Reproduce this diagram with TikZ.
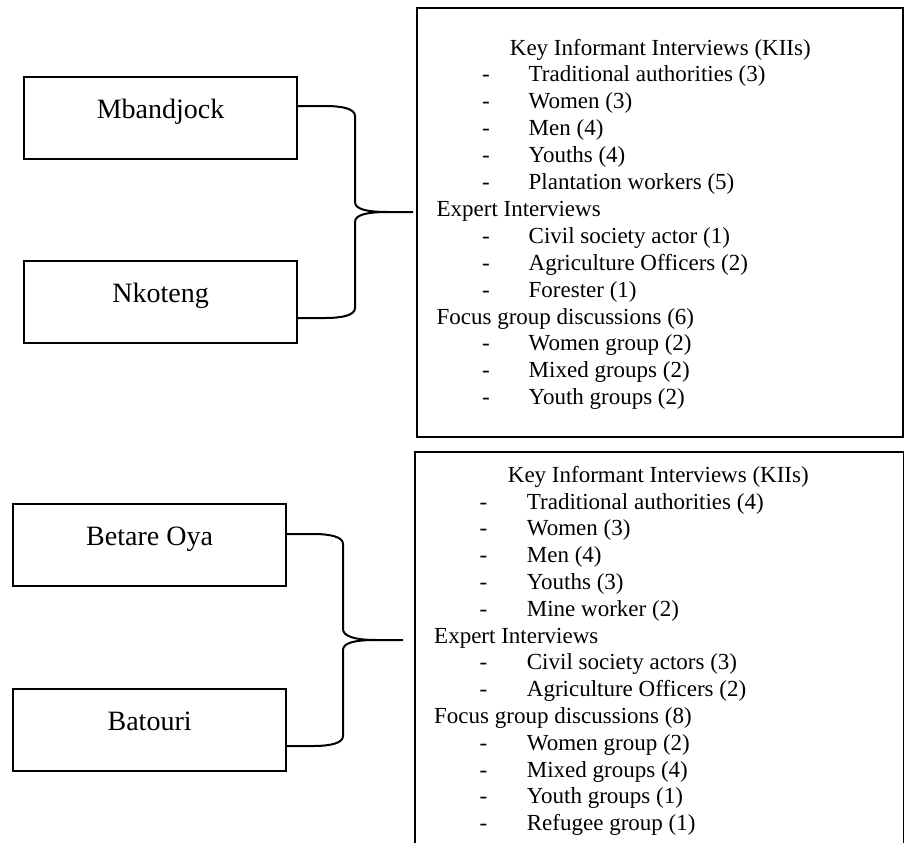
\documentclass[tikz,border=0pt]{standalone}
\usepackage{fontspec}
\setmainfont{Liberation Serif}
\usetikzlibrary{calc}
\begin{document}
\begin{tikzpicture}[x=1bp,y=-1bp,
  site/.style={draw,line width=2.2bp,minimum width=273bp,minimum height=82bp,inner sep=0pt,
    text height=8bp,text depth=8bp,font=\fontsize{28bp}{33bp}\selectfont,anchor=north west},
  panel/.style={draw,line width=2.2bp,inner sep=0pt,anchor=north west},
  brace/.style={line width=2bp},
  ln/.style={anchor=base west,inner sep=0pt,font=\fontsize{23bp}{27bp}\selectfont}]
\useasboundingbox (0,0) rectangle (904,843);

% left boxes
\node[site] (m)  at (23,76)  {Mbandjock};
\node[site] (n)  at (23,260) {Nkoteng};
\node[site] (b)  at (12,503) {Betare Oya};
\node[site] (bt) at (12,688) {Batouri};

% right panels
\node[panel,minimum width=486bp,minimum height=429bp] (p1) at (416,7) {};
\node[panel,minimum width=489bp,minimum height=400bp] (p2) at (414,451) {};

% top panel text
\node[ln] (a0) at (509.7,55) {Key Informant Interviews (KIIs)};
\node[ln] (a6) at (436.4,{55+26.9*6}) {Expert Interviews};
\node[ln] (a10) at (436.4,{55+26.9*10}) {Focus group discussions (6)};
\foreach \n/\t in {1/Traditional authorities (3),2/Women (3),3/Men (4),4/Youths (4),
  5/Plantation workers (5),7/Civil society actor (1),8/Agriculture Officers (2),9/Forester (1),
  11/Women group (2),12/Mixed groups (2),13/Youth groups (2)}{
  \node[ln] (ad\n) at (482,{55+26.9*\n}) {-};
  \node[ln] (a\n) at (528.5,{55+26.9*\n}) {\t};
}

% bottom panel text
\node[ln] (c0) at (507.7,482.3) {Key Informant Interviews (KIIs)};
\node[ln] (c6) at (434,{482.3+26.8*6}) {Expert Interviews};
\node[ln] (c9) at (434,{482.3+26.8*9}) {Focus group discussions (8)};
\foreach \n/\t in {1/Traditional authorities (4),2/Women (3),3/Men (4),4/Youths (3),
  5/Mine worker (2),7/Civil society actors (3),8/Agriculture Officers (2),
  10/Women group (2),11/Mixed groups (4),12/Youth groups (1),13/Refugee group (1)}{
  \node[ln] (cd\n) at (479.5,{482.3+26.8*\n}) {-};
  \node[ln] (c\n) at (526.7,{482.3+26.8*\n}) {\t};
}

% braces
\coordinate (t1) at (413,212);
\coordinate (t2) at (403,640);
\draw[brace] ($(m.north east)+(0,30)$) -- (325,106)
  .. controls +(18,0) and +(0,-7) .. (355,116) -- (355,202)
  .. controls +(0,7) and +(-22,0) .. (388,212) -- (t1);
\draw[brace] (388,212) .. controls +(-22,0) and +(0,-7) .. (355,222) -- (355,308)
  .. controls +(0,7) and +(18,0) .. (325,318) -- ($(n.north east)+(0,58)$);
\draw[brace] ($(b.north east)+(0,31)$) -- (313,534)
  .. controls +(18,0) and +(0,-7) .. (343,544) -- (343,629)
  .. controls +(0,7) and +(-22,0) .. (376,640) -- (t2);
\draw[brace] (376,640) .. controls +(-22,0) and +(0,-7) .. (343,650) -- (343,736)
  .. controls +(0,7) and +(18,0) .. (313,746) -- ($(bt.north east)+(0,58)$);
\end{tikzpicture}
\end{document}
